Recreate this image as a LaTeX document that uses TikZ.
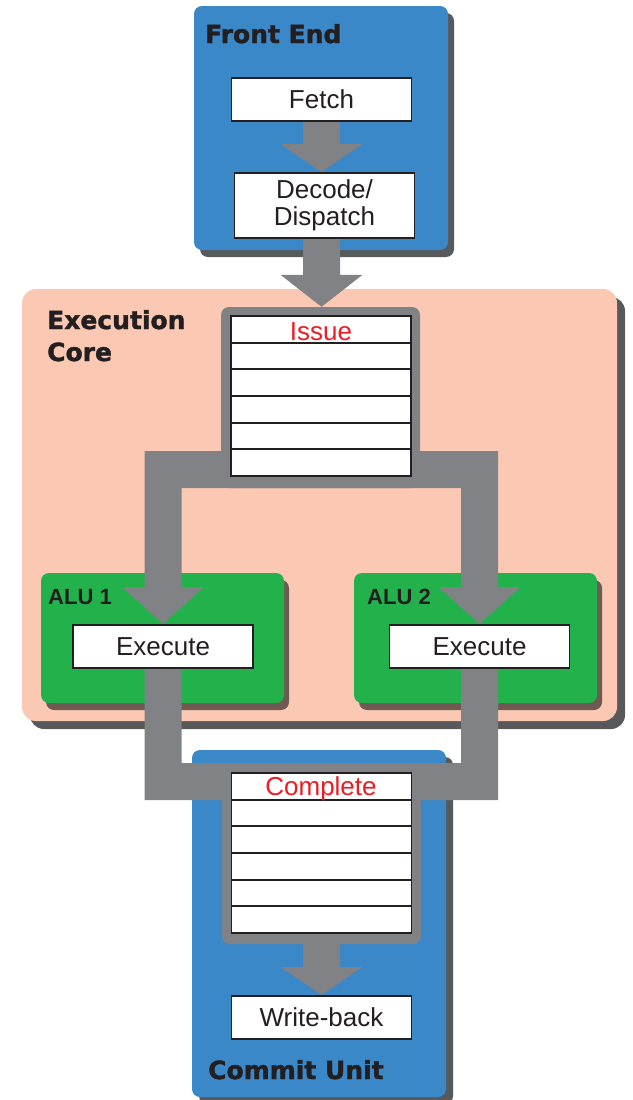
\documentclass[tikz,border=0pt]{standalone}
\usepackage{fontspec}
\setmainfont{Liberation Sans}
\newfontfamily\hdrfont{DejaVu Sans}[BoldFeatures={FakeBold=1.5}]
\usetikzlibrary{calc,shadows}
\definecolor{feblue}{RGB}{59,136,200}
\definecolor{peach}{RGB}{251,201,179}
\definecolor{alugreen}{RGB}{35,177,76}
\definecolor{garrow}{RGB}{128,130,133}
\definecolor{shgray}{RGB}{88,89,91}
\definecolor{shbrown}{RGB}{110,90,82}
\definecolor{qred}{RGB}{237,28,36}
\definecolor{inkc}{RGB}{35,31,32}
\pgfdeclarelayer{panels}
\pgfdeclarelayer{flow}
\pgfsetlayers{panels,flow,main}
\newcommand{\bigarrow}[3]{%
  \fill[garrow] ($(#2 |- #1)+(-18.5,0)$) -- ($(#2)+(-18.5,-#3)$) -- ($(#2)+(-41,-#3)$) -- (#2)
    -- ($(#2)+(41,-#3)$) -- ($(#2)+(18.5,-#3)$) -- ($(#2 |- #1)+(18.5,0)$) -- cycle;}
\begin{document}
\begin{tikzpicture}[x=1pt,y=-1pt,
  panel/.style={rounded corners=8pt, inner sep=0pt},
  wbox/.style={draw=inkc, fill=white, line width=1.8pt, inner sep=0pt, minimum width=180pt,
    font=\fontsize{26}{26.5}\selectfont, text=inkc},
  cell/.style={draw=inkc, fill=white, line width=1.8pt, inner sep=0pt, minimum width=180pt, minimum height=26.67pt},
  frame/.style={fill=garrow, rounded corners=8pt, inner sep=0pt, minimum width=199pt, minimum height=181pt},
  hdr/.style={font=\hdrfont\bfseries\fontsize{25}{30}\selectfont, text=inkc, inner sep=0pt, anchor=base west},
  aluhdr/.style={font=\bfseries\fontsize{22}{24}\selectfont, text=inkc, inner sep=0pt, anchor=base west},
  qlabel/.style={font=\fontsize{26}{26}\selectfont, text=qred, inner sep=0pt, anchor=base}
]
\useasboundingbox (0,0) rectangle (632,1100);

% ---------- panels ----------
\begin{pgfonlayer}{panels}
\node[panel, fill=feblue, minimum width=254pt, minimum height=244pt,
  drop shadow={shadow xshift=6pt, shadow yshift=-7pt, opacity=1, fill=shgray}] (fe) at (321,128) {};
\node[panel, rounded corners=14pt, fill=peach, minimum width=595pt, minimum height=432pt,
  drop shadow={shadow xshift=8pt, shadow yshift=-8pt, opacity=1, fill=shgray}] (core) at (319.5,505) {};
\node[panel, fill=feblue, minimum width=254pt, minimum height=347pt,
  drop shadow={shadow xshift=7pt, shadow yshift=-7pt, opacity=1, fill=shgray}] (cu) at (319,923.5) {};
\node[panel, fill=alugreen, minimum width=243pt, minimum height=130pt,
  drop shadow={shadow xshift=5pt, shadow yshift=-7pt, opacity=1, fill=shbrown}] (alu1) at (162.5,638) {};
\node[panel, fill=alugreen, minimum width=243pt, minimum height=130pt,
  drop shadow={shadow xshift=5pt, shadow yshift=-7pt, opacity=1, fill=shbrown}] (alu2) at (475.5,638) {};
\end{pgfonlayer}

% ---------- white boxes ----------
\node[wbox, minimum height=43pt] (fetch) at (321.5,99.5) {Fetch};
\node[wbox, minimum height=65pt, align=center] (decode) at (324.5,205.5) {Decode/\\Dispatch};
\foreach \i in {0,...,5}
  \node[cell] (iq\i) at (321,{329.33+\i*26.667}) {};
\node[qlabel] (issuelbl) at (321,340) {Issue};
\node[wbox, minimum height=43pt] (ex1) at (163,646.5) {Execute};
\node[wbox, minimum height=43pt] (ex2) at (479.5,646.5) {Execute};
\foreach \i in {0,...,5}
  \node[cell] (cq\i) at (321.5,{786.33+\i*26.667}) {};
\node[qlabel] (completelbl) at (321,795) {Complete};
\node[wbox, minimum height=43pt] (wb) at (321.5,1017.5) {Write-back};

% ---------- headers ----------
\node[hdr] (fetitle) at (205,43) {Front End};
\node[hdr] (ectitle1) at (47,329) {Execution};
\node[hdr] (ectitle2) at (47,361) {Core};
\node[aluhdr] (alu1title) at (48,604) {ALU 1};
\node[aluhdr] (alu2title) at (367,604) {ALU 2};
\node[hdr] (cutitle) at (208,1079) {Commit Unit};

% ---------- gray flow ----------
\begin{pgfonlayer}{flow}
\node[frame] (issueframe) at (320.5,397.5) {};
\node[frame] (cframe) at (321.5,853.5) {};
\coordinate (tipA) at (fetch.south |- decode.north);
\coordinate (tipB) at (fetch.south |- issueframe.north);
\coordinate (tipC) at (fetch.south |- wb.north);
\bigarrow{fetch.south}{tipA}{28}
\bigarrow{decode.south}{tipB}{32}
\bigarrow{cframe.south}{tipC}{28}
% fork from issue queue to both ALUs
\fill[garrow] (144.5,451) -- (498,451) -- (498,587) -- (520.5,587) -- (ex2.north) -- (438.5,587)
  -- (461,587) -- (461,488) -- (181.5,488) -- (181.5,587) -- (204,587) -- (ex1.north)
  -- (122,587) -- (144.5,587) -- cycle;
% merge from both ALUs into completion queue
\fill[garrow] ($(ex1.south)+(-18.5,-8)$) -- (144.5,800) -- (498,800) -- ($(ex2.south)+(18.5,-8)$)
  -- ($(ex2.south)+(-18.5,-8)$) -- (461,763) -- (181.5,763) -- ($(ex1.south)+(18.5,-8)$) -- cycle;
\end{pgfonlayer}
\end{tikzpicture}
\end{document}
